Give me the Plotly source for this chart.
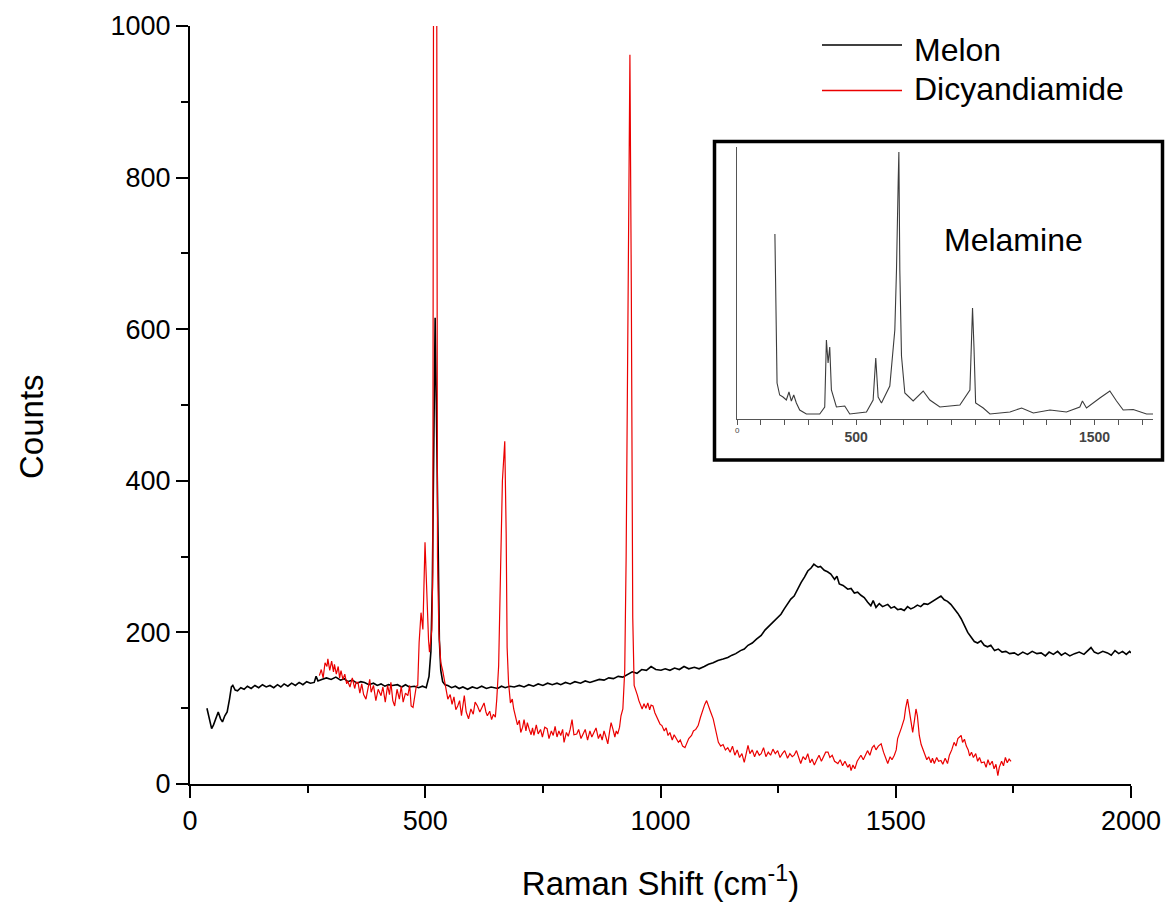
import plotly.graph_objects as go

# ---------------- data ----------------
melon_x = [36, 41, 46, 50, 55, 60, 65, 69, 74, 79, 84, 88, 91, 96, 101, 108, 115, 122, 130, 138,
           146, 154, 162, 170, 178, 186, 193, 200, 208, 216, 224, 232, 240, 248, 256, 264, 268, 272,
           280, 290, 300, 310, 320, 328, 335, 345, 355, 363, 371, 380, 390, 398, 406, 414, 422, 430,
           441, 450, 458, 466, 477, 486, 494, 502, 508, 512, 515, 518, 521, 524, 527, 530, 533, 537,
           542, 548, 556, 564, 572, 580, 590, 600, 610, 620, 630, 640, 654, 662, 670, 680, 689, 700,
           710, 720, 730, 740, 750, 760, 770, 780, 788, 798, 808, 818, 830, 840, 850, 859, 870, 880,
           890, 900, 910, 920, 930, 940, 950, 960, 970, 980, 990, 1001, 1010, 1020, 1030, 1040, 1050,
           1060, 1072, 1082, 1093, 1102, 1112, 1122, 1133, 1143, 1152, 1160, 1170, 1178, 1186, 1195,
           1204, 1214, 1222, 1230, 1238, 1246, 1256, 1263, 1270, 1277, 1284, 1291, 1299, 1306, 1313,
           1320, 1326, 1330, 1335, 1340, 1348, 1355, 1362, 1370, 1375, 1380, 1388, 1398, 1405, 1412,
           1419, 1426, 1433, 1440, 1447, 1452, 1458, 1465, 1472, 1483, 1490, 1497, 1504, 1511, 1518,
           1525, 1532, 1539, 1546, 1553, 1560, 1568, 1575, 1582, 1589, 1596, 1603, 1610, 1617, 1625,
           1632, 1639, 1646, 1653, 1660, 1667, 1674, 1681, 1688, 1695, 1702, 1710, 1718, 1726, 1734,
           1742, 1752, 1760, 1770, 1780, 1790, 1800, 1809, 1818, 1826, 1835, 1844, 1852, 1860, 1870,
           1880, 1890, 1900, 1908, 1915, 1922, 1930, 1940, 1950, 1958, 1966, 1974, 1982, 1990, 1997,
           2000]
melon_y = [100, 85, 73, 78, 88, 95, 86, 82, 90, 95, 112, 128, 130, 124, 123, 127, 125, 129, 126, 130,
           127, 131, 128, 130, 127, 131, 128, 132, 129, 133, 130, 134, 131, 135, 133, 134, 142, 136,
           138, 140, 138, 141, 137, 139, 135, 137, 133, 135, 134, 131, 133, 130, 132, 129, 131, 130,
           131, 128, 131, 128, 129, 127, 129, 127, 142, 175, 260, 450, 615, 480, 300, 190, 150, 135,
           131, 130, 127, 129, 126, 128, 125, 128, 126, 129, 126, 128, 126, 129, 127, 129, 128, 130,
           128, 131, 129, 132, 130, 133, 131, 133, 131, 134, 132, 135, 133, 136, 134, 136, 138, 137,
           140, 139, 142, 141, 145, 148, 146, 151, 150, 155, 151, 150, 152, 150, 153, 151, 155,
           152, 154, 152, 155, 158, 160, 163, 165, 167, 170, 172, 176, 178, 183, 186,
           191, 196, 203, 208, 213, 217, 224, 231, 238, 244, 248, 257, 266, 273, 281,
           285, 290, 288, 286, 287, 282, 280, 277, 270, 274, 264, 262, 257, 258, 252,
           253, 249, 246, 240, 235, 242, 233, 238, 234, 237, 232, 234, 230, 231, 229,
           234, 231, 233, 236, 234, 238, 237, 240, 242, 245, 248, 243, 241, 237, 231,
           225, 218, 209, 200, 194, 188, 186, 189, 183, 181, 183, 176, 178, 174, 175,
           172, 173, 170, 174, 171, 175, 172, 173, 169, 174, 171, 175, 170, 173, 169,
           172, 174, 171, 176, 180, 174, 172, 175, 173, 170, 176, 172, 175, 171, 175,
           173]

dicy_x = [275, 279, 283, 287, 291, 293, 297, 301, 305, 307, 311, 315, 318, 321, 325, 329, 333, 335,
          340, 345, 350, 353, 357, 361, 365, 369, 374, 378, 382, 385, 390, 395, 400, 406, 410, 415,
          420, 424, 427, 431, 435, 440, 445, 449, 453, 458, 463, 467, 470, 474, 478, 481, 484, 487,
          491, 495, 499.5, 502, 504, 507, 509, 512, 514, 516, 518, 524, 526, 529, 533, 537, 540, 544,
          548, 553, 557, 561, 565, 569, 573, 577, 581, 583, 587, 592, 597, 602, 606, 611, 616, 620,
          625, 629, 632, 637, 641, 645, 649, 652, 656, 660, 664, 669, 672, 674, 677, 681, 685, 688,
          692, 696, 700, 703, 707, 710, 714, 717, 721, 725, 728, 731, 736, 740, 745, 749, 754, 759,
          763, 768, 772, 776, 780, 784, 788, 792, 795, 800, 804, 808, 812, 816, 822, 826, 831, 835,
          840, 845, 850, 854, 859, 863, 868, 872, 876, 880, 884, 888, 892, 895, 899, 903, 906, 909,
          913, 916, 920, 924, 927, 931, 935, 938, 941, 944, 947, 951, 954, 958, 961, 965, 969, 973,
          977, 980, 984, 988, 991, 995, 999, 1003, 1008, 1012, 1016, 1020, 1025, 1029, 1034, 1038,
          1042, 1047, 1052, 1056, 1060, 1066, 1070, 1075, 1080, 1085, 1090, 1094, 1098, 1102, 1106,
          1112, 1116, 1120, 1123, 1128, 1133, 1138, 1143, 1148, 1153, 1158, 1163, 1168, 1173, 1178,
          1182, 1186, 1190, 1195, 1200, 1205, 1210, 1214, 1219, 1224, 1229, 1234, 1239, 1244, 1249,
          1254, 1259, 1264, 1270, 1275, 1280, 1284, 1289, 1294, 1298, 1303, 1308, 1313, 1318, 1322,
          1327, 1332, 1337, 1342, 1346, 1351, 1356, 1360, 1365, 1370, 1377, 1382, 1387, 1392, 1398,
          1402, 1405, 1409, 1413, 1418, 1422, 1426, 1431, 1436, 1440, 1445, 1450, 1454, 1458, 1463,
          1469, 1474, 1478, 1483, 1488, 1492, 1497, 1501, 1504, 1508, 1512, 1515, 1518, 1521, 1525,
          1528, 1531, 1534, 1536, 1540, 1543, 1546, 1548, 1550, 1554, 1558, 1561, 1566, 1570, 1575,
          1578, 1582, 1587, 1591, 1596, 1600, 1605, 1610, 1614, 1619, 1624, 1628, 1632, 1636, 1639,
          1642, 1646, 1650, 1654, 1657, 1661, 1665, 1670, 1674, 1678, 1682, 1688, 1692, 1696, 1700,
          1705, 1709, 1713, 1717, 1720, 1725, 1729, 1733, 1737, 1741, 1745]
dicy_y = [143, 151, 140, 160, 155, 165, 150, 162, 148, 158, 145, 155, 140, 149.5, 138, 145, 132, 136,
          128, 140, 126, 134, 134, 120, 132, 118, 112, 128, 138, 121, 130, 110, 125, 116.5, 128, 108,
          130, 118, 134, 110, 103, 125, 112, 129, 108, 120, 116.5, 130, 103, 101, 118, 129, 130, 187,
          226, 204, 319, 280, 226, 190, 174, 190, 204, 280, 1250, 1250, 300, 200, 160, 150, 138, 125,
          112, 118, 105, 115, 98, 103, 110, 90, 105, 116.5, 95, 86, 99, 92, 108, 103, 95, 100,
          107, 95, 90, 96, 85, 92, 88, 112, 156, 280, 400, 452, 330, 180, 134, 107, 112, 99,
          90, 78, 84, 68, 75, 85, 70, 81, 72, 65, 74, 64, 78, 66, 72, 62, 75, 73,
          60, 70, 64, 76, 62, 70, 64, 72, 55, 68, 63, 72, 85, 65, 66, 72, 60, 66,
          72, 58, 70, 62, 68, 74, 60, 66, 58, 70, 62, 53, 70, 81, 72, 62, 70, 66,
          75, 90, 99, 150, 300, 700, 962, 650, 220, 130, 125, 117, 110, 104, 99, 106, 100, 107,
          98, 104, 103, 94, 90, 86, 79, 77, 70, 74, 64, 68, 58, 65, 60, 55,
          58, 50, 48, 55, 60, 64, 70, 72, 77, 88, 98, 105, 110, 102, 96,
          86, 75, 62, 55, 50, 52, 45, 48, 42, 50, 38, 45, 35, 40, 28.6,
          42, 51, 40, 45, 36, 44, 38, 40, 48, 36, 42, 38, 46, 40, 44,
          35, 40, 44, 34, 40, 36, 38, 44, 33, 27, 36, 32, 40, 28, 33,
          25, 32, 38, 30, 36, 42, 42, 35, 38, 30, 27, 32, 24, 30, 22,
          26, 17.6, 25, 20, 30, 34, 38, 32, 40, 44, 38, 48, 51, 45, 50,
          53, 42, 35, 27, 36, 32, 38, 45, 60, 66, 74, 80, 86, 100, 112,
          100, 88, 72, 68, 85, 99, 90, 75, 64, 52, 45, 38, 32, 36, 28,
          34, 27, 35, 30, 31, 26, 34, 27, 38, 45, 55, 50, 60, 62, 64,
          55, 59, 50, 45, 37, 42, 35, 40, 30, 35, 28, 29, 22, 32, 25,
          30, 20, 26, 11, 22, 30, 24, 35, 28, 33, 30]

# inset (Melamine) spectrum, arbitrary units
melamine_x = [159, 163, 168, 179, 193, 207, 218, 228, 238, 249, 263, 291, 347, 368, 375, 382, 389,
              396, 417, 452, 473, 543, 571, 582, 592, 606, 641, 662, 669, 676, 679, 683, 690, 704,
              739, 781, 809, 851, 935, 977, 984, 988, 994, 1001, 1033, 1061, 1145, 1194, 1243, 1313,
              1382, 1438, 1449, 1466, 1522, 1564, 1592, 1620, 1662, 1718, 1746]
melamine_y = [185, 89, 36, 24, 22, 19, 27, 18, 24, 16, 9, 5, 5, 12, 79, 56, 72,
              29, 12, 13, 5, 7, 19, 61, 22, 16, 33, 89, 149, 236, 267, 149, 63, 26,
              18, 28, 19, 12, 14, 29, 99, 111, 72, 16, 11, 5, 7, 11, 6, 9,
              7, 12, 18, 11, 21, 28, 18, 9, 9.5, 5, 5]

x_ticks = [0, 500, 1000, 1500, 2000]
y_ticks = [0, 200, 400, 600, 800, 1000]
inset_tickvals = [500, 1500]
inset_ticktext = ["500", "1500"]

# ---------------- layout geometry (pixels) ----------------
W, H = 1167, 906
L, R, T, B = 190, 2, 26, 122
PW = W - L - R
PH = H - T - B


def px(xp):
    return (xp - L) / PW


def py(yp):
    return (H - B - yp) / PH


FONT = "Arial, 'Liberation Sans', Helvetica, sans-serif"

fig = go.Figure()
fig.add_trace(go.Scatter(x=melon_x, y=melon_y, mode="lines", name="Melon",
                         line=dict(color="black", width=1.6), showlegend=False))
fig.add_trace(go.Scatter(x=dicy_x, y=dicy_y, mode="lines", name="Dicyandiamide",
                         line=dict(color="rgb(235,0,0)", width=1.2), showlegend=False))
fig.add_trace(go.Scatter(x=melamine_x, y=melamine_y, mode="lines", name="Melamine",
                         xaxis="x2", yaxis="y2",
                         line=dict(color="#3c3c3c", width=1.1), showlegend=False))

main_right = 1131
fig.update_layout(
    width=W, height=H,
    margin=dict(l=L, r=R, t=T, b=B, autoexpand=False),
    paper_bgcolor="white", plot_bgcolor="white",
    font=dict(family=FONT, color="black"),
    xaxis=dict(domain=[0, px(main_right)], range=[0, 2000], tickvals=x_ticks, automargin=False,
               showline=True, linecolor="black", linewidth=2, mirror=False,
               ticks="outside", ticklen=12, tickwidth=2, tickcolor="black",
               minor=dict(dtick=250, tick0=0, ticks="outside", ticklen=7, tickwidth=2, tickcolor="black"),
               showgrid=False, zeroline=False,
               tickfont=dict(size=27, family=FONT),
               title=dict(text="Raman Shift (cm<sup>-1</sup>)", font=dict(size=33, family=FONT), standoff=36)),
    yaxis=dict(domain=[0, 1], range=[0, 1000], tickvals=y_ticks, automargin=False,
               showline=True, linecolor="black", linewidth=2,
               ticks="outside", ticklen=12, tickwidth=2, tickcolor="black",
               minor=dict(dtick=100, tick0=0, ticks="outside", ticklen=7, tickwidth=2, tickcolor="black"),
               showgrid=False, zeroline=False,
               tickfont=dict(size=27, family=FONT)),
    xaxis2=dict(domain=[px(737), px(1153)], range=[0, 1745], anchor="y2", automargin=False,
                tickmode="array", tickvals=inset_tickvals, ticktext=inset_ticktext,
                showline=True, linecolor="#555", linewidth=1,
                ticks="outside", ticklen=5, tickwidth=1, tickcolor="#555",
                minor=dict(dtick=100, tick0=0, ticks="outside", ticklen=5, tickwidth=1, tickcolor="#555"),
                tickfont=dict(size=14, family=FONT, color="#444", weight="bold"),
                showgrid=False, zeroline=False),
    yaxis2=dict(domain=[py(419), py(147)], range=[0, 272], anchor="x2", automargin=False,
                showline=True, linecolor="#555", linewidth=1,
                showticklabels=False, ticks="", showgrid=False, zeroline=False),
)

# inset frame
fig.add_shape(type="rect", xref="paper", yref="paper",
              x0=px(714.5), x1=px(1162.5), y0=py(460), y1=py(141.5),
              line=dict(color="black", width=3.5), fillcolor="rgba(0,0,0,0)")

# tiny zero label on the inset axis
fig.add_annotation(text="0", xref="x2", yref="paper", x=0, y=py(431),
                   xanchor="center", yanchor="middle", showarrow=False,
                   font=dict(size=8, family=FONT, color="#444"))

# manual legend
legend_items = [("Melon", "black", 45, 50), ("Dicyandiamide", "rgb(235,0,0)", 90.5, 89)]
for name, color, ly, ty in legend_items:
    fig.add_shape(type="line", xref="paper", yref="paper",
                  x0=px(822), x1=px(902), y0=py(ly), y1=py(ly),
                  line=dict(color=color, width=1.3))
    fig.add_annotation(text=name, xref="paper", yref="paper", x=px(912), y=py(ty),
                       xanchor="left", yanchor="middle", showarrow=False,
                       font=dict(size=32, family=FONT, color="black"))

# inset label
fig.add_annotation(text="Melamine", xref="paper", yref="paper", x=px(1013), y=py(240),
                   xanchor="center", yanchor="middle", showarrow=False,
                   font=dict(size=32, family=FONT, color="black"))

# y axis title
fig.add_annotation(text="Counts", xref="paper", yref="paper", x=px(31), y=py(427),
                   xanchor="center", yanchor="middle", textangle=-90, showarrow=False,
                   font=dict(size=33, family=FONT, color="black"))

fig.write_html("out.html", config={"displayModeBar": False},
               post_script="document.body.style.margin='0px';")
